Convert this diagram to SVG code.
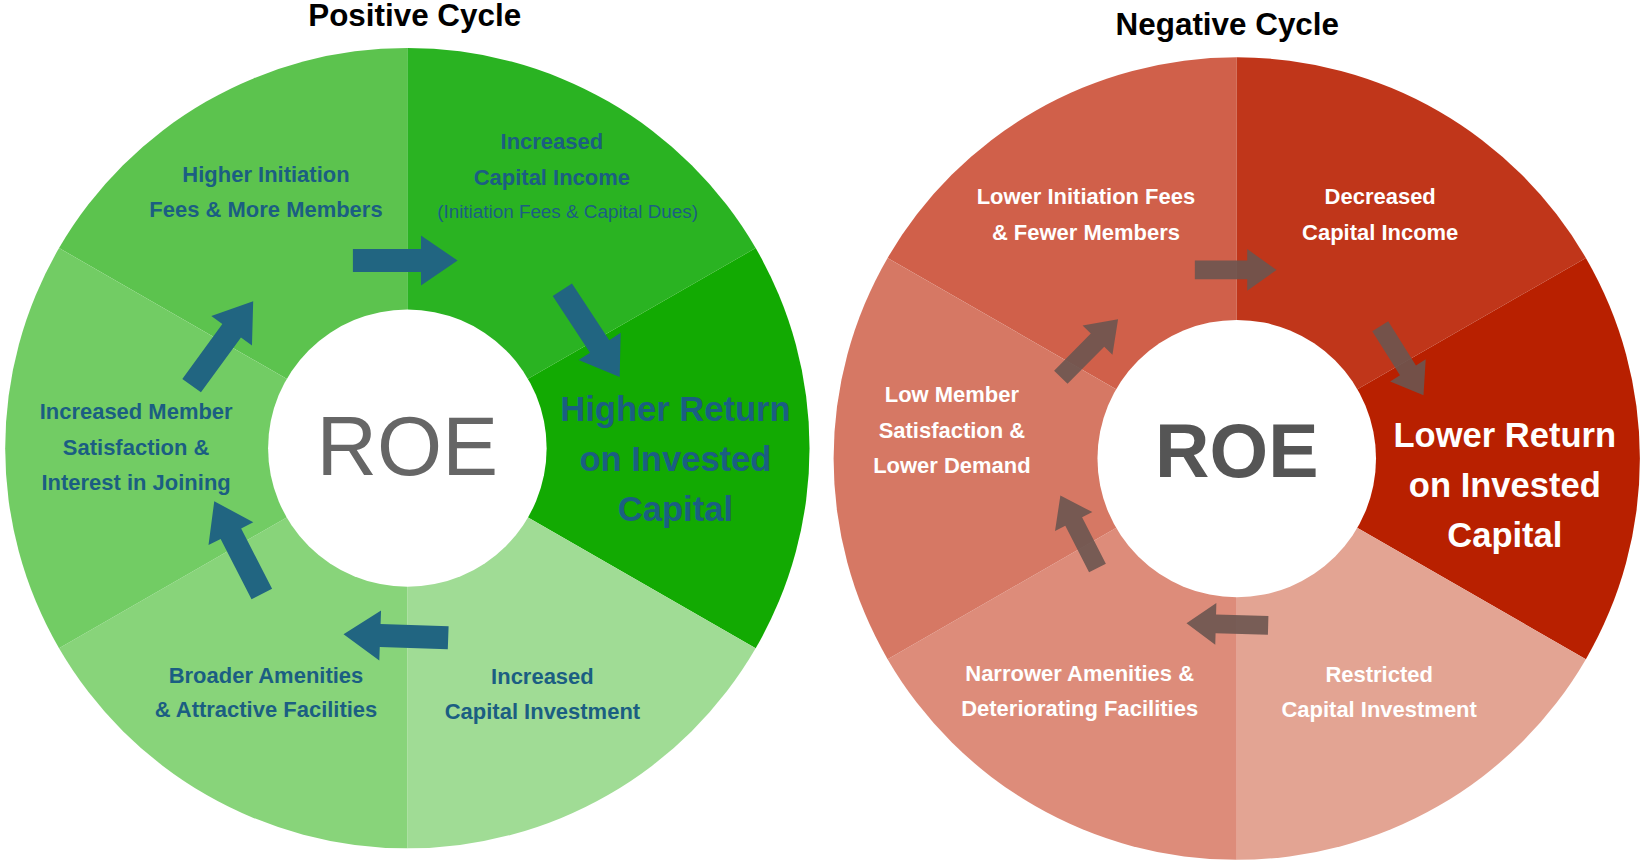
<svg xmlns="http://www.w3.org/2000/svg" width="1642" height="865" viewBox="0 0 1642 865">
<style>
text{font-family:"Liberation Sans",Arial,sans-serif;font-weight:bold;text-anchor:middle;dominant-baseline:central}
.g{fill:#1b5e82;font-size:21px}
.w{fill:#fff;font-size:21px}
.big{font-size:33px}
.t{fill:#000;font-size:30px}
.la{fill:#216581}
.ra{fill:#6b5550;opacity:0.9}
</style>
<defs>
<path id="al" d="M0,-11 H65 V-24 L100,0 L65,24 V11 H0 Z"/>
<path id="ar" d="M0,-9 H50 V-20 L78,0 L50,20 V9 H0 Z"/>
</defs>
<rect width="1642" height="865" fill="#fff"/>
<g transform="scale(1.0472,1.0422)">
<g id="positive">
<text class="t" x="396" y="15">Positive Cycle</text>
<g transform="translate(389,430)">
<path d="M0,0 L-332.6,-192 A384,384 0 0 1 0,-384 Z" fill="#5cc34e"/>
<path d="M0,0 L0,-384 A384,384 0 0 1 332.6,-192 Z" fill="#2ab322"/>
<path d="M0,0 L332.6,-192 A384,384 0 0 1 332.6,192 Z" fill="#12aa02"/>
<path d="M0,0 L332.6,192 A384,384 0 0 1 0,384 Z" fill="#a0dc95"/>
<path d="M0,0 L0,384 A384,384 0 0 1 -332.6,192 Z" fill="#88d47a"/>
<path d="M0,0 L-332.6,192 A384,384 0 0 1 -332.6,-192 Z" fill="#72cc64"/>
<circle r="133" fill="#fff"/>
</g>
<text x="389" y="428" style="font-weight:normal;font-size:80px;fill:#666">ROE</text>
<text class="g" x="254" y="167">Higher Initiation</text>
<text class="g" x="254" y="201">Fees &amp; More Members</text>
<text class="g" x="527" y="136">Increased</text>
<text class="g" x="527" y="170">Capital Income</text>
<text class="g" x="542" y="203" style="font-weight:normal;font-size:18px">(Initiation Fees &amp; Capital Dues)</text>
<text class="g big" x="645" y="392">Higher Return</text>
<text class="g big" x="645" y="440">on Invested</text>
<text class="g big" x="645" y="488">Capital</text>
<text class="g" x="518" y="649">Increased</text>
<text class="g" x="518" y="683">Capital Investment</text>
<text class="g" x="254" y="648">Broader Amenities</text>
<text class="g" x="254" y="681">&amp; Attractive Facilities</text>
<text class="g" x="130" y="395">Increased Member</text>
<text class="g" x="130" y="429">Satisfaction &amp;</text>
<text class="g" x="130" y="463">Interest in Joining</text>
</g>
<g id="negative">
<text class="t" x="1172" y="24">Negative Cycle</text>
<g transform="translate(1181,440)">
<path d="M0,0 L-333.4,-192.5 A385,385 0 0 1 0,-385 Z" fill="#d0604a"/>
<path d="M0,0 L0,-385 A385,385 0 0 1 333.4,-192.5 Z" fill="#c0361a"/>
<path d="M0,0 L333.4,-192.5 A385,385 0 0 1 333.4,192.5 Z" fill="#b82000"/>
<path d="M0,0 L333.4,192.5 A385,385 0 0 1 0,385 Z" fill="#e3a493"/>
<path d="M0,0 L0,385 A385,385 0 0 1 -333.4,192.5 Z" fill="#dd8c7a"/>
<path d="M0,0 L-333.4,192.5 A385,385 0 0 1 -333.4,-192.5 Z" fill="#d67864"/>
<circle r="133" fill="#fff"/>
</g>
<text x="1181" y="433" style="font-size:72px;fill:#555">ROE</text>
<text class="w" x="1037" y="189">Lower Initiation Fees</text>
<text class="w" x="1037" y="223">&amp; Fewer Members</text>
<text class="w" x="1318" y="189">Decreased</text>
<text class="w" x="1318" y="223">Capital Income</text>
<text class="w big" x="1437" y="417">Lower Return</text>
<text class="w big" x="1437" y="465">on Invested</text>
<text class="w big" x="1437" y="513">Capital</text>
<text class="w" x="1317" y="647">Restricted</text>
<text class="w" x="1317" y="681">Capital Investment</text>
<text class="w" x="1031" y="646">Narrower Amenities &amp;</text>
<text class="w" x="1031" y="680">Deteriorating Facilities</text>
<text class="w" x="909" y="379">Low Member</text>
<text class="w" x="909" y="413">Satisfaction &amp;</text>
<text class="w" x="909" y="447">Lower Demand</text>
</g>
<g id="connectors">
<use href="#al" class="la" transform="translate(337,250)"/>
<use href="#al" class="la" transform="translate(537,278) rotate(56.8)"/>
<use href="#al" class="la" transform="translate(428,612) rotate(182)"/>
<use href="#al" class="la" transform="translate(250,570) rotate(-117)"/>
<use href="#al" class="la" transform="translate(183,370) rotate(-54)"/>
<use href="#ar" class="ra" transform="translate(1141,259)"/>
<use href="#ar" class="ra" transform="translate(1318,313) rotate(58)"/>
<use href="#ar" class="ra" transform="translate(1211,600) rotate(181.5)"/>
<use href="#ar" class="ra" transform="translate(1048,545) rotate(-117)"/>
<use href="#ar" class="ra" transform="translate(1013,362) rotate(-45.5)"/>
</g>
</g>
</svg>
